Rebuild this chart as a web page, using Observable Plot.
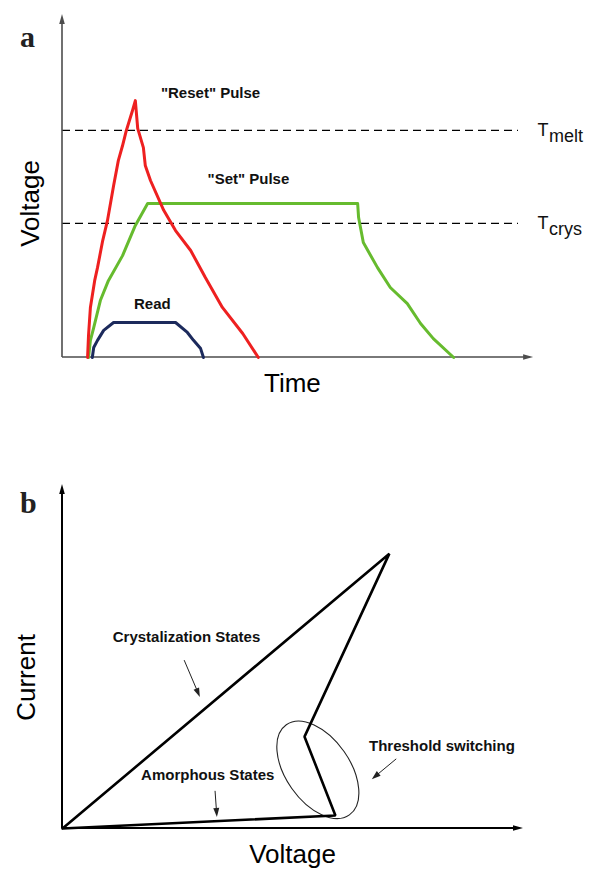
<!DOCTYPE html>
<html><head><meta charset="utf-8">
<script src="https://cdn.jsdelivr.net/npm/d3@7"></script>
<script src="https://cdn.jsdelivr.net/npm/@observablehq/plot@0.6"></script>
<style>
body{margin:0;background:#fff;}
#chart{width:595px;}
#chart svg{display:block;background:#fff;}
</style></head><body><div id="chart"></div>
<script>
// ---------- Panel a: programming pulses (time, voltage; arbitrary units) ----------
const resetTime    = [5.3,5.5,5.9,6.8,7.4,8.5,9.5,10.8,11.8,12.7,13.5,14.8,15.4,15.9,17.1,17.5,18.6,21.4,23.9,27.1,30.2,33.8,38.1,41.4];
const resetVoltage = [0,6.4,14.6,22.4,26.2,34.1,39.9,50.1,57.4,61.8,66.2,72.0,74.9,66.8,61.2,56.0,51.6,42.9,37.0,31.2,23.3,14.6,7.0,0];
const setTime      = [5.5,5.9,6.6,8.0,9.7,12.7,15.4,18.0,62.4,62.6,63.6,66.6,69.3,72.9,75.7,78.4,82.7];
const setVoltage   = [0,5.0,8.7,16.6,22.4,29.7,38.5,44.9,44.9,40.8,33.5,26.2,20.4,15.7,9.9,5.5,0];
const readTime     = [6.3,6.6,7.4,8.7,10.8,23.9,26.4,27.7,29.2,29.8];
const readVoltage  = [0,2.9,5.0,7.9,10.2,10.2,7.3,5.0,2.6,0];
const thresholdNames  = ["melt","crys"];
const thresholdLevels = [66.2,39.1];
const pulseLabels  = ['"Reset" Pulse','"Set" Pulse','Read'];
const pulseLabelT  = [31.3,39.3,19.0];
const pulseLabelV  = [77.0,51.9,15.5];

// ---------- Panel b: I-V characteristic (voltage, current; arbitrary units) ----------
const ivVoltage = [0,59.2,52.5,70.9,0];
const ivCurrent = [0,3.8,26.7,79.9,0];
const ellipseCenter = [55.5,16.9];
const ivLabels  = ["Crystalization States","Amorphous States","Threshold switching"];
const ivLabelU  = [26.9,31.5,82.3];
const ivLabelI  = [55.5,15.4,23.8];
const ivArrowFromU = [26.5,33.2,72.5];
const ivArrowFromI = [48.8,10.8,20.1];
const ivArrowToU   = [29.9,33.6,67.2];
const ivArrowToI   = [38.1,3.2,14.2];

const toPts = (xs, ys) => xs.map((x, i) => ({x, y: ys[i]}));
const resetData = toPts(resetTime, resetVoltage);
const setData = toPts(setTime, setVoltage);
const readData = toPts(readTime, readVoltage);
const ivData = toPts(ivVoltage, ivCurrent);

// arrow drawn through the plot scales, with a filled narrow head
function arrowMark(data, {stroke = "#000", strokeWidth = 1, headLength = 9, headWidth = 3} = {}) {
  return (index, scales) => {
    const g = d3.create("svg:g");
    for (const d of data) {
      const x1 = scales.x(d.x1), y1 = scales.y(d.y1), x2 = scales.x(d.x2), y2 = scales.y(d.y2);
      const a = Math.atan2(y2 - y1, x2 - x1);
      const bx = x2 - headLength * Math.cos(a), by = y2 - headLength * Math.sin(a);
      g.append("line").attr("x1", x1).attr("y1", y1).attr("x2", bx + Math.cos(a)).attr("y2", by + Math.sin(a))
        .attr("stroke", stroke).attr("stroke-width", strokeWidth);
      const px = headWidth * Math.sin(a), py = -headWidth * Math.cos(a);
      g.append("path").attr("d", `M${x2},${y2}L${bx + px},${by + py}L${bx - px},${by - py}Z`).attr("fill", stroke);
    }
    return g.node();
  };
}

const font = "'Liberation Sans', Arial, sans-serif";
const serif = "'Liberation Serif', 'Times New Roman', serif";

const axisA = "#4d4d4d";
const panelA = Plot.plot({
  width: 595, height: 430,
  marginLeft: 62, marginRight: 60, marginTop: 14, marginBottom: 73,
  x: {domain: [0, 100], axis: null},
  y: {domain: [0, 100], axis: null},
  style: {fontFamily: font, background: "#fff", color: "#000", overflow: "visible"},
  marks: [
    Plot.ruleY(thresholdLevels, {x1: 0, x2: 96.4, stroke: "#000", strokeWidth: 1.3, strokeDasharray: "8,5"}),
    arrowMark([{x1: 0, y1: 0, x2: 99.6, y2: 0}, {x1: 0, y1: 0, x2: 0, y2: 100}], {stroke: axisA, strokeWidth: 1.6, headLength: 10, headWidth: 2.8}),
    Plot.line(readData, {x: "x", y: "y", stroke: "#1c2a5c", strokeWidth: 3}),
    Plot.line(setData, {x: "x", y: "y", stroke: "#66bb2e", strokeWidth: 3}),
    Plot.line(resetData, {x: "x", y: "y", stroke: "#ee2020", strokeWidth: 3}),
    Plot.text(pulseLabels, {x: (d, i) => pulseLabelT[i], y: (d, i) => pulseLabelV[i], text: d => d, fontSize: 15, fontWeight: "bold", fill: "#111"}),
    Plot.text(thresholdNames, {x: 100.4, y: (d, i) => thresholdLevels[i], text: () => "T", textAnchor: "start", fontSize: 18, fill: "#111"}),
    Plot.text(thresholdNames, {x: 100.4, y: (d, i) => thresholdLevels[i], text: d => d, textAnchor: "start", dx: 11.5, dy: 6, fontSize: 18, fill: "#111"}),
    Plot.text(["Voltage"], {x: -6.8, y: 44.9, text: d => d, rotate: -90, fontSize: 26, fill: "#000"}),
    Plot.text(["Time"], {x: 48.6, y: -7.6, text: d => d, fontSize: 26, fill: "#000"}),
    Plot.text(["a"], {x: -7.4, y: 93.3, text: d => d, fontSize: 30, fontWeight: "bold", fontFamily: serif, fill: "#222"})
  ]
});

const ivArrows = ivArrowFromU.map((u, i) => ({x1: u, y1: ivArrowFromI[i], x2: ivArrowToU[i], y2: ivArrowToI[i]}));
const panelB = Plot.plot({
  width: 595, height: 439,
  marginLeft: 62, marginRight: 72, marginTop: 54, marginBottom: 41,
  x: {domain: [0, 100], axis: null},
  y: {domain: [0, 100], axis: null},
  style: {fontFamily: font, background: "#fff", color: "#000", overflow: "visible"},
  marks: [
    arrowMark([{x1: 0, y1: 0, x2: 100, y2: 0}, {x1: 0, y1: 0, x2: 0, y2: 100}], {stroke: "#000", strokeWidth: 2, headLength: 10, headWidth: 2.8}),
    (index, scales) => {
      const cx = scales.x(ellipseCenter[0]), cy = scales.y(ellipseCenter[1]);
      return d3.create("svg:ellipse").attr("cx", cx).attr("cy", cy).attr("rx", 55).attr("ry", 32)
        .attr("transform", `rotate(55 ${cx} ${cy})`).attr("fill", "none").attr("stroke", "#222").attr("stroke-width", 1.1).node();
    },
    Plot.line(ivData, {x: "x", y: "y", stroke: "#000", strokeWidth: 2.6, strokeLinejoin: "miter"}),
    arrowMark(ivArrows, {stroke: "#222", strokeWidth: 1, headLength: 9, headWidth: 3}),
    Plot.text(ivLabels, {x: (d, i) => ivLabelU[i], y: (d, i) => ivLabelI[i], text: d => d, fontSize: 15, fontWeight: "bold", fill: "#111"}),
    Plot.text(["Current"], {x: -7.8, y: 43.9, text: d => d, rotate: -90, fontSize: 26, fill: "#000"}),
    Plot.text(["Voltage"], {x: 49.9, y: -7.6, text: d => d, fontSize: 26, fill: "#000"}),
    Plot.text(["b"], {x: -7.4, y: 94.5, text: d => d, fontSize: 30, fontWeight: "bold", fontFamily: serif, fill: "#222"})
  ]
});

document.getElementById("chart").append(panelA, panelB);
</script>
</body></html>
